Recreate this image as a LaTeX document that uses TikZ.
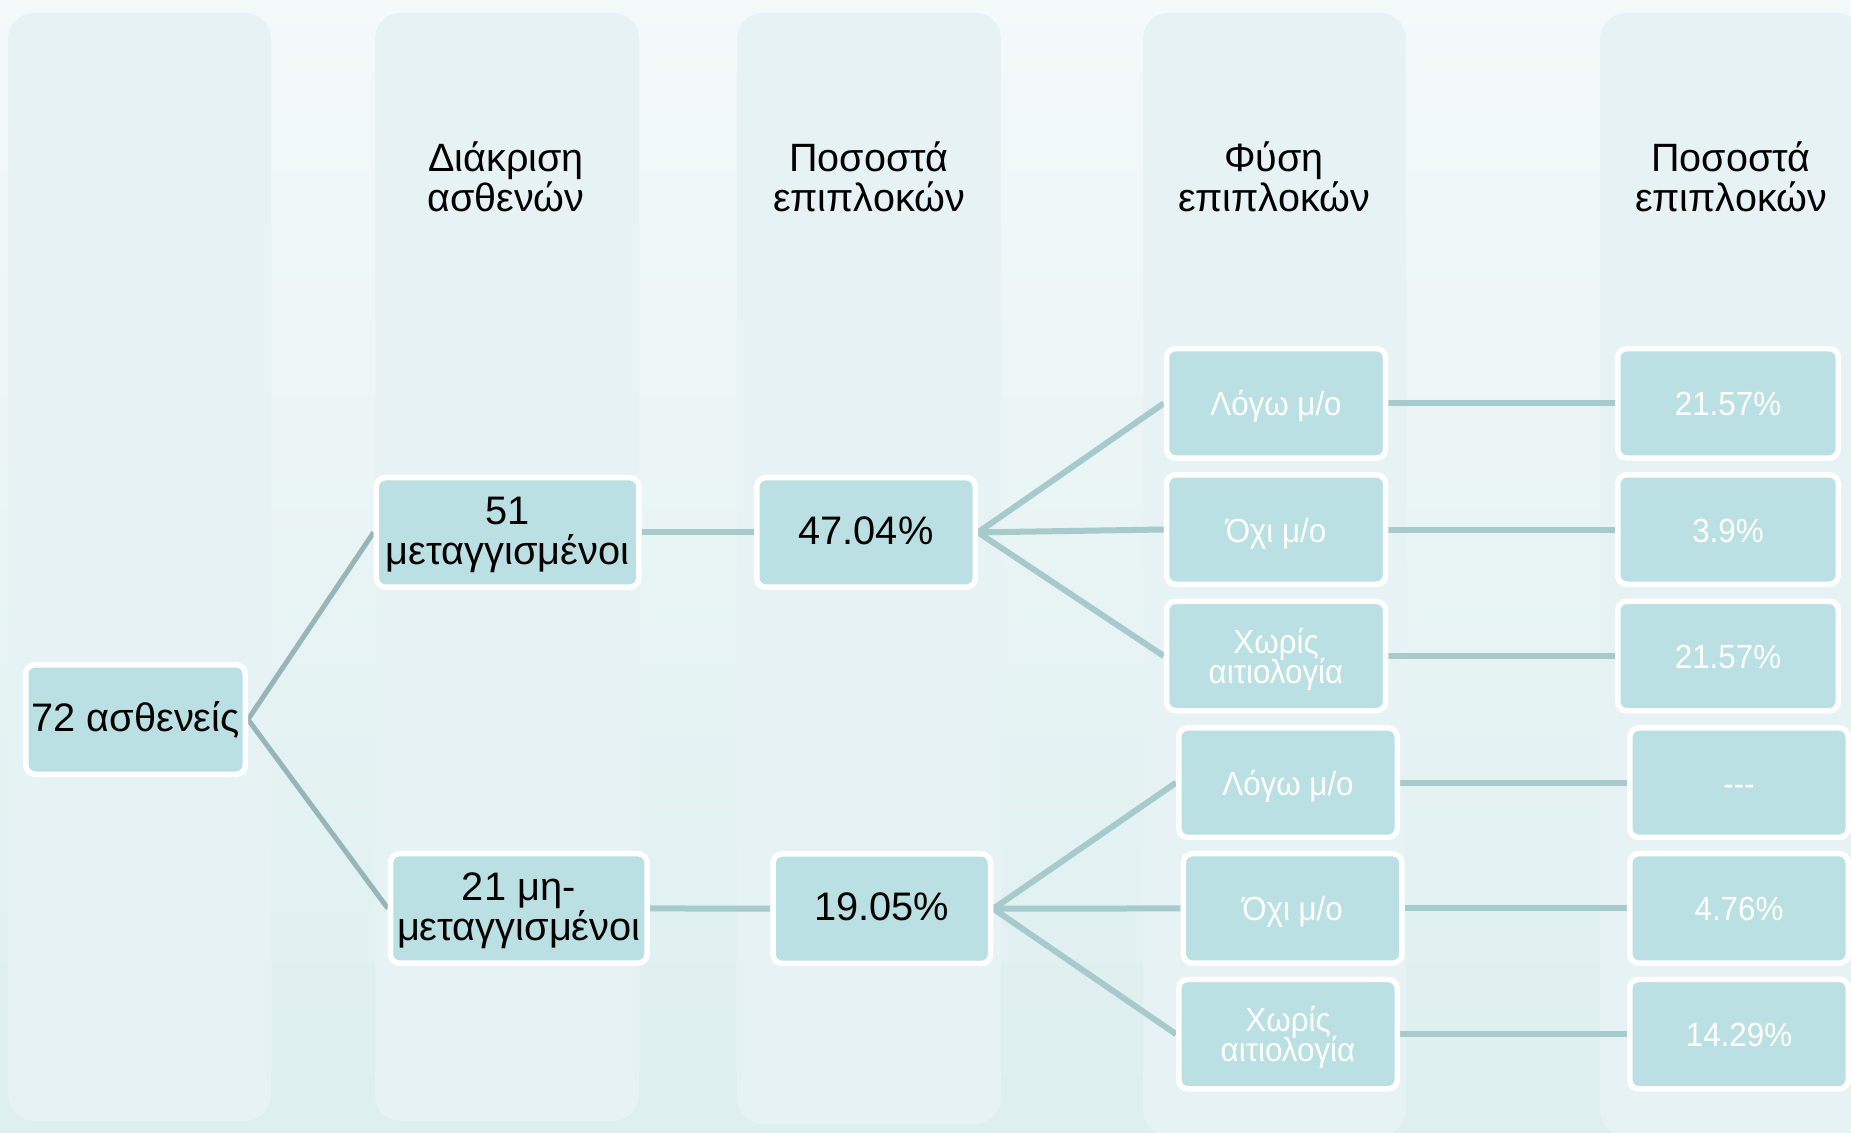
\documentclass[tikz,border=0pt]{standalone}
\usepackage{fontspec}
\setmainfont{Liberation Sans}
\newfontfamily\narrowsans{Liberation Sans}[FakeStretch=0.935]
\definecolor{boxfill}{HTML}{BBE0E3}
\definecolor{colfill}{HTML}{E6F2F3}
\definecolor{bgtop}{HTML}{F4F9FA}
\definecolor{bgbot}{HTML}{DDEFEF}
\definecolor{linkA}{HTML}{98B6BA}
\definecolor{linkB}{HTML}{A7CACD}
\newcommand\lineD[1]{\raisebox{0pt}[34pt][10pt]{#1}}
\newcommand\lineL[1]{\raisebox{0pt}[30pt][5pt]{#1}}
\newcommand\tightlines{\lineskiplimit=-100pt\relax}
\newcommand\darkfont{\fontsize{39.8}{40}\selectfont\tightlines}
\newcommand\lightfont{\narrowsans\fontsize{33.5}{30.5}\selectfont\tightlines}
\newcommand\headfont{\fontsize{39.5}{40}\selectfont}
\pgfdeclarelayer{backdrop}
\pgfdeclarelayer{links}
\pgfsetlayers{backdrop,links,main}
\begin{document}
\begin{tikzpicture}[x=1pt,y=-1pt,
  box/.style={draw=white,line width=5.5pt,fill=boxfill,rounded corners=9pt,inner sep=0pt,align=center,minimum height=109.5pt},
  dark/.style={box,text=black,font=\darkfont},
  light/.style={box,text=white,font=\lightfont},
  head/.style={align=center,inner sep=0pt,text=black,font=\headfont},
  colbox/.style={fill=colfill,draw=none,rounded corners=26pt},
  linka/.style={draw=linkA,line width=5pt},
  linkb/.style={draw=linkB,line width=6pt}]
\useasboundingbox (0,0) rectangle (1851,1132);

\begin{pgfonlayer}{backdrop}
  \shade[top color=bgtop,bottom color=bgbot] (0,0) rectangle (1851,1132);
  \begin{scope}
    \clip (0,0) rectangle (1851,1132);
    \fill[colbox] (8,13) rectangle (271,1121);
    \fill[colbox] (375,13) rectangle (639,1121);
    \fill[colbox] (737,13) rectangle (1001,1124);
    \fill[colbox] (1143,13) rectangle (1406,1136);
    \fill[colbox] (1600,13) rectangle (1863,1136);
  \end{scope}
\end{pgfonlayer}

% headers
\node[head] (h2) at (506,177) {Διάκριση\\ασθενών};
\node[head] (h3) at (869,177) {Ποσοστά\\επιπλοκών};
\node[head] (h4) at (1274,177) {Φύση\\επιπλοκών};
\node[head] (h5) at (1731,177) {Ποσοστά\\επιπλοκών};

% main nodes
\node[dark,minimum width=219.5pt] (A) at (135.5,719.5) {\lineD{72 ασθενείς}};
\node[dark,minimum width=262.5pt] (B) at (507.6,532.4) {\lineD{51}\\\lineD{μεταγγισμένοι}};
\node[dark,minimum width=256.5pt] (C) at (518.8,908.4) {\lineD{21 μη-}\\\lineD{μεταγγισμένοι}};
\node[dark,minimum width=218.5pt] (D) at (866,532.4) {\lineD{47.04\%}};
\node[dark,minimum width=217.5pt] (E) at (881.8,908.7) {\lineD{19.05\%}};

\node[light,minimum width=219pt] (F1) at (1276,403.3) {\lineL{Λόγω μ/ο}};
\node[light,minimum width=219pt] (F2) at (1276,529.5) {\lineL{Όχι μ/ο}};
\node[light,minimum width=219pt] (F3) at (1276,656) {\lineL{Χωρίς}\\\lineL{αιτιολογία}};

\node[light,minimum width=220.5pt] (G1) at (1728,403.3) {\lineL{21.57\%}};
\node[light,minimum width=220.5pt] (G2) at (1728,529.5) {\lineL{3.9\%}};
\node[light,minimum width=220.5pt] (G3) at (1728,656) {\lineL{21.57\%}};

\node[light,minimum width=218.5pt] (H1) at (1288,782.7) {\lineL{Λόγω μ/ο}};
\node[light,minimum width=218.5pt] (H2) at (1292.6,908.4) {\lineL{Όχι μ/ο}};
\node[light,minimum width=218.5pt] (H3) at (1288,1034.1) {\lineL{Χωρίς}\\\lineL{αιτιολογία}};

\node[light,minimum width=218.5pt] (I1) at (1739,782.7) {\lineL{-{}-{}-}};
\node[light,minimum width=218.5pt] (I2) at (1739,908.4) {\lineL{4.76\%}};
\node[light,minimum width=218.5pt] (I3) at (1739,1034.1) {\lineL{14.29\%}};

\begin{pgfonlayer}{links}
  \draw[linka] (A.east) -- (B.west);
  \draw[linka] (A.east) -- (C.west);
  \draw[linkb] (B.east) -- (D.west);
  \draw[linkb] (C.east) -- (E.west);
  \draw[linkb] (D.east) -- (F1.west);
  \draw[linkb] (D.east) -- (F2.west);
  \draw[linkb] (D.east) -- (F3.west);
  \draw[linkb] (E.east) -- (H1.west);
  \draw[linkb] (E.east) -- (H2.west);
  \draw[linkb] (E.east) -- (H3.west);
  \draw[linkb] (F1.east) -- (G1.west);
  \draw[linkb] (F2.east) -- (G2.west);
  \draw[linkb] (F3.east) -- (G3.west);
  \draw[linkb] (H1.east) -- (I1.west);
  \draw[linkb] (H2.east) -- (I2.west);
  \draw[linkb] (H3.east) -- (I3.west);
\end{pgfonlayer}
\end{tikzpicture}
\end{document}
